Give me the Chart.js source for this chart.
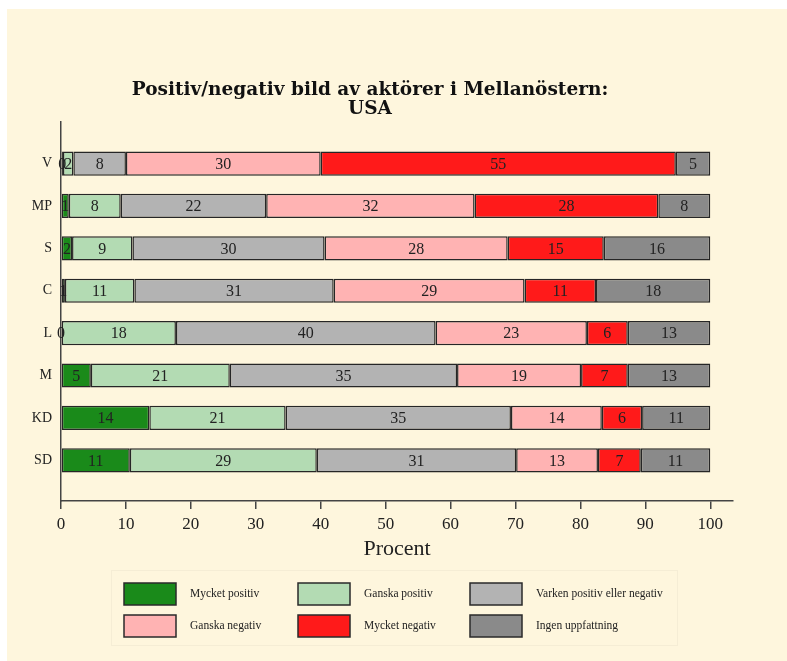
<!DOCTYPE html>
<html>
<head>
<meta charset="utf-8">
<script src="https://cdn.jsdelivr.net/npm/chart.js@4.4.1/dist/chart.umd.min.js"></script>
<style>
  body { margin: 0; background: #ffffff; }
  #wrap { position: absolute; left: 7px; top: 9px; width: 780px; height: 652px; background: #fef6dd; }
</style>
</head>
<body>
<div id="wrap"><canvas id="c" width="780" height="652"></canvas></div>
<script>
const partier = ["V", "MP", "S", "C", "L", "M", "KD", "SD"];

const mycketPositiv   = [0.3, 1.2, 1.7, 0.6, 0, 4.6, 13.6, 10.6];
const ganskaPositiv   = [1.6, 8.0, 9.3, 10.7, 17.7, 21.4, 21.0, 28.8];
const varken          = [8.1, 22.4, 29.6, 30.7, 40.0, 35.0, 34.7, 30.7];
const ganskaNegativ   = [30.0, 32.1, 28.2, 29.4, 23.3, 19.1, 14.0, 12.6];
const mycketNegativ   = [54.7, 28.3, 14.8, 11.0, 6.3, 7.2, 6.2, 6.6];
const ingenUppfattning = [5.3, 8.0, 16.4, 17.6, 12.7, 12.7, 10.5, 10.7];

const xTicks = [0, 10, 20, 30, 40, 50, 60, 70, 80, 90, 100];

const serie = [
  { label: "Mycket positiv", data: mycketPositiv, color: "#1a8a1a" },
  { label: "Ganska positiv", data: ganskaPositiv, color: "#b3dbb3" },
  { label: "Varken positiv eller negativ", data: varken, color: "#b3b3b3" },
  { label: "Ganska negativ", data: ganskaNegativ, color: "#ffb3b3" },
  { label: "Mycket negativ", data: mycketNegativ, color: "#ff1a1a" },
  { label: "Ingen uppfattning", data: ingenUppfattning, color: "#8a8a8a" },
];

const serif = "'Liberation Serif', 'DejaVu Serif', serif";

// etiketter i staplarna
const barLabels = {
  id: "barLabels",
  afterDatasetsDraw(chart) {
    const ctx = chart.ctx;
    ctx.save();
    ctx.font = "16px " + serif;
    ctx.fillStyle = "#222";
    ctx.textAlign = "center";
    ctx.textBaseline = "middle";
    chart.data.datasets.forEach((ds, di) => {
      const meta = chart.getDatasetMeta(di);
      meta.data.forEach((el, i) => {
        const v = ds.data[i].x;
        ctx.fillText(String(Math.round(v)), (el.x + el.base) / 2, el.y + 1);
      });
    });
    ctx.restore();
  },
};

// legend i tre kolumner
const gridLegend = {
  id: "gridLegend",
  afterDraw(chart) {
    const ctx = chart.ctx;
    const colX = [117, 291, 463];
    const rowY = [574, 606];
    ctx.save();
    ctx.strokeStyle = "rgba(0,0,0,0.035)";
    ctx.lineWidth = 1;
    ctx.strokeRect(104.5, 561.5, 566, 75);
    serie.forEach((s, i) => {
      const x = colX[i % 3];
      const y = rowY[Math.floor(i / 3)];
      ctx.fillStyle = s.color;
      ctx.fillRect(x, y, 52, 22);
      ctx.strokeStyle = "#2a2a2a";
      ctx.lineWidth = 1.5;
      ctx.strokeRect(x, y, 52, 22);
      ctx.fillStyle = "#222";
      ctx.font = "11.5px " + serif;
      ctx.textBaseline = "middle";
      ctx.textAlign = "left";
      ctx.fillText(s.label, x + 66, y + 11);
    });
    ctx.restore();
  },
};

new Chart(document.getElementById("c"), {
  type: "bar",
  data: {
    datasets: serie.map((s) => ({
      label: s.label,
      data: s.data.map((v, i) => ({ x: v, y: i })),
      backgroundColor: s.color,
      borderColor: "#262626",
      borderWidth: 1.5,
      borderSkipped: false,
      barPercentage: 0.57,
      categoryPercentage: 1,
    })),
  },
  options: {
    indexAxis: "y",
    responsive: false,
    animation: false,
    layout: { padding: { left: 0, right: 54, top: 0, bottom: 0 } },
    plugins: {
      legend: { display: false },
      tooltip: { enabled: false },
      title: {
        display: true,
        text: ["Positiv/negativ bild av aktörer i Mellanöstern:", "USA"],
        font: { family: "'DejaVu Serif', serif", size: 18.5, weight: "bold", lineHeight: 1.0 },
        color: "#111",
        padding: { top: 72, bottom: 4 },
      },
    },
    scales: {
      x: {
        type: "linear",
        stacked: true,
        min: 0,
        max: 103.5,
        afterBuildTicks: (scale) => {
          scale.ticks = xTicks.map((v) => ({ value: v }));
        },
        afterFit: (scale) => {
          scale.height = 160;
        },
        ticks: {
          font: { family: serif, size: 17 },
          color: "#222",
          padding: 5,
          maxRotation: 0,
        },
        grid: {
          drawOnChartArea: false,
          drawTicks: true,
          tickLength: 8,
          color: "#444",
          lineWidth: 1.5,
        },
        border: { display: true, color: "#444", width: 1.5 },
        title: {
          display: true,
          text: "Procent",
          font: { family: serif, size: 22 },
          color: "#222",
          padding: { top: 4, bottom: 99 },
        },
      },
      y: {
        type: "linear",
        stacked: true,
        reverse: true,
        offset: false,
        min: -0.98,
        max: 7.96,
        afterBuildTicks: (scale) => {
          scale.ticks = partier.map((p, i) => ({ value: i }));
        },
        afterFit: (scale) => {
          scale.width = 54;
        },
        ticks: {
          font: { family: serif, size: 14 },
          color: "#222",
          padding: 9,
          callback: (v) => partier[v],
        },
        grid: { offset: false, drawOnChartArea: false, drawTicks: false, color: "#444" },
        border: { display: true, color: "#444", width: 1.5 },
      },
    },
  },
  plugins: [barLabels, gridLegend],
});
</script>
</body>
</html>
